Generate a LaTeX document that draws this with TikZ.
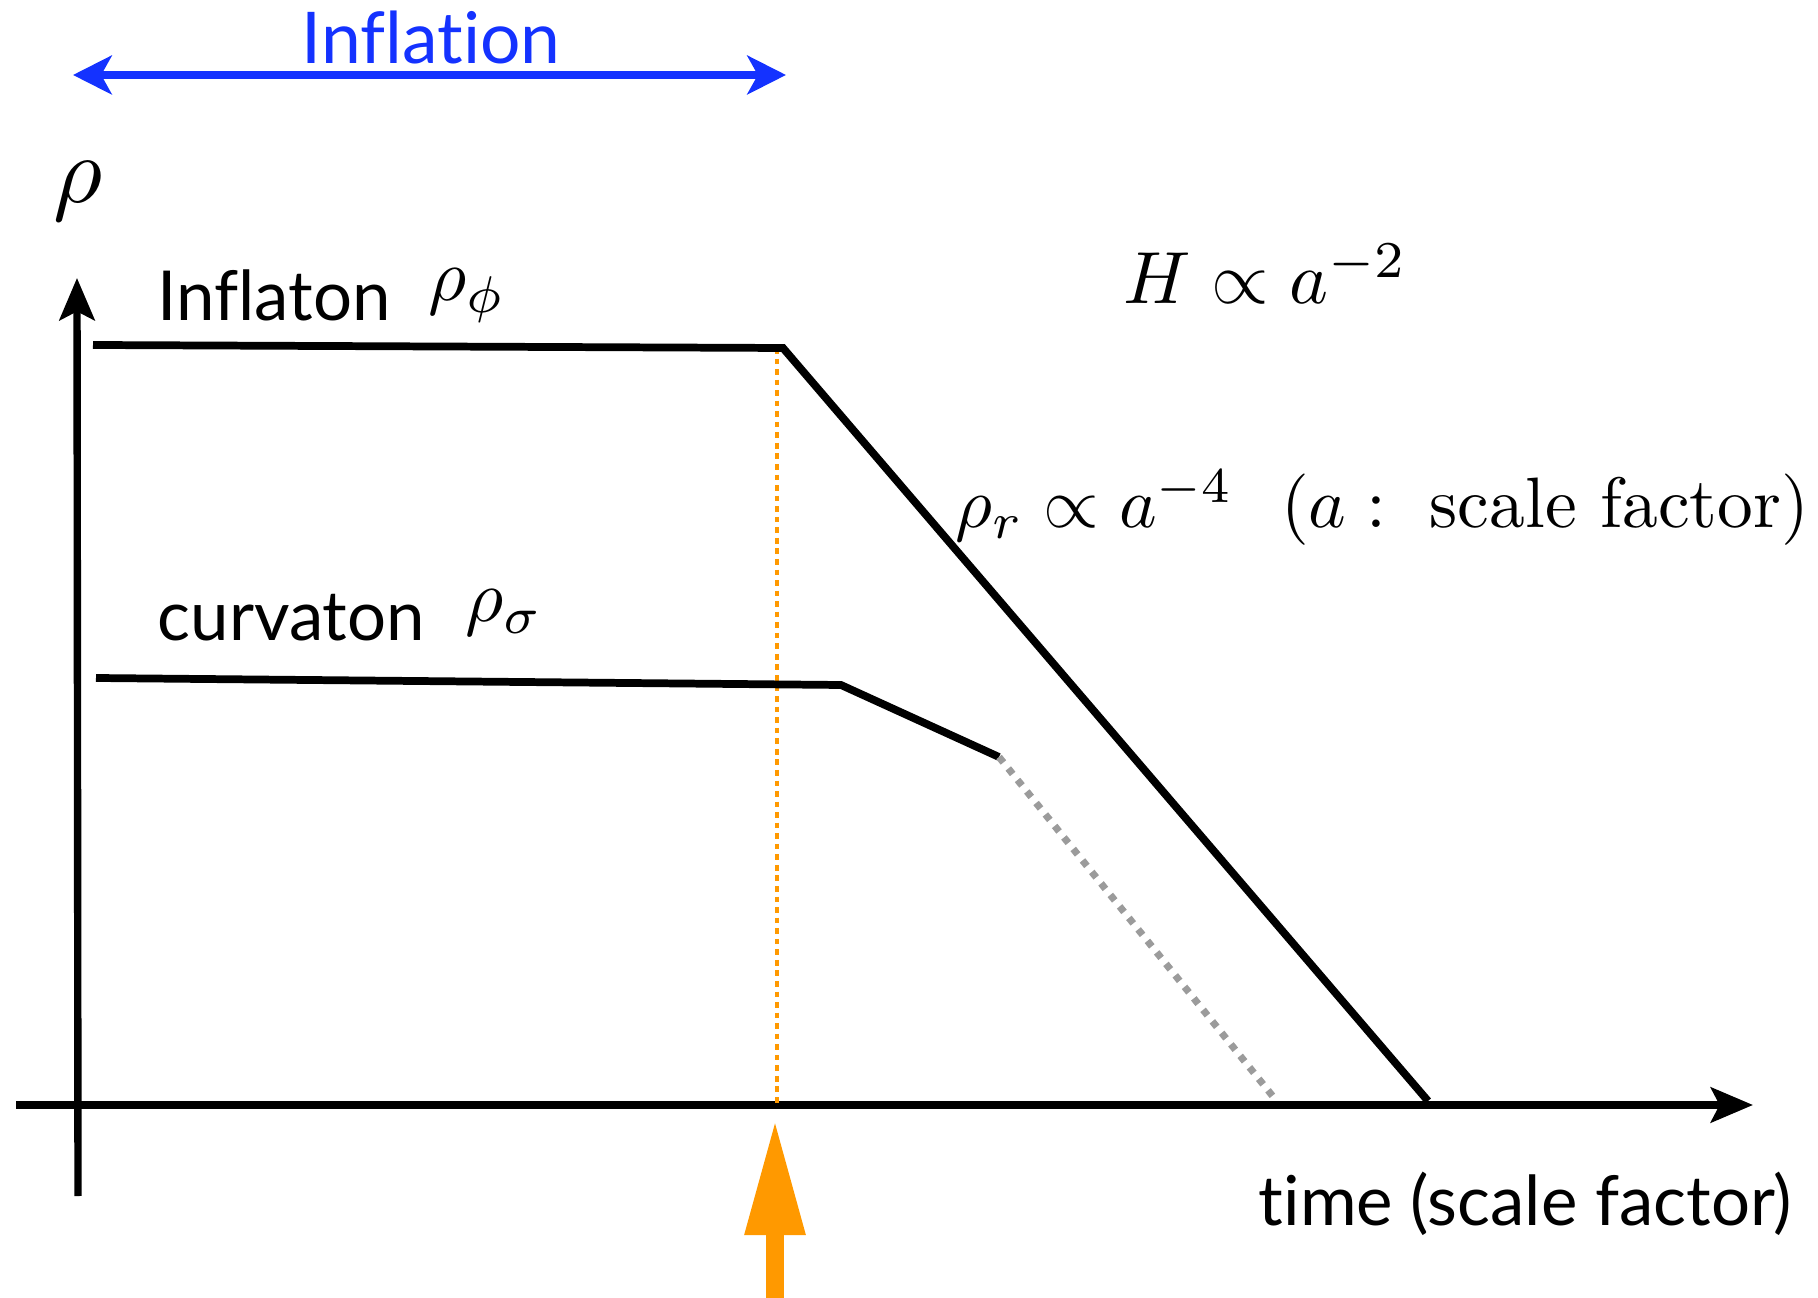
\documentclass[tikz,border=0pt]{standalone}
\usepackage{fontspec}
\newfontfamily\gillfont[Ligatures=NoCommon]{Lato}
\usetikzlibrary{arrows.meta}
\definecolor{infblue}{RGB}{20,50,255}
\definecolor{orng}{RGB}{255,153,0}
\definecolor{dgray}{RGB}{155,155,155}
\newcommand\sanslbl{\gillfont\fontsize{19.6}{24}\selectfont}
\begin{document}
\begin{tikzpicture}[x=0.01cm,y=-0.01cm,
  curve/.style={line width=2.2pt,black},
  axis/.style={line width=2.1pt,black,-{Stealth[length=12pt,width=10pt,inset=2.5pt]}},
  lbl/.style={inner sep=0pt,anchor=base west},
  mlbl/.style={lbl,scale=2.1},
]
\useasboundingbox (0,0) rectangle (1818,1298);
% coordinates
\coordinate (yb) at (78,1196);
\coordinate (yt) at (77,278);
\coordinate (xl) at (16,1105);
\coordinate (xr) at (1753,1105);
\coordinate (i0) at (93,345);
\coordinate (i1) at (783,348);
\coordinate (i2) at (1428,1101);
\coordinate (c0) at (96,678);
\coordinate (c1) at (841,685);
\coordinate (c2) at (999,757);
\coordinate (c3) at (1275,1099);
\coordinate (o0) at (777,348);
\coordinate (o1) at (777,1105);
\coordinate (a0) at (775,1298);
\coordinate (a1) at (775,1119);
\coordinate (b0) at (73,75);
\coordinate (b1) at (786,75);
% axes
\draw[axis] (yb) -- (yt);
\draw[axis] (xl) -- (xr);
% orange dotted line
\draw[orng,line width=1.3pt,dash pattern=on 1.6pt off 1.4pt] (o0) -- (o1);
% inflaton and radiation
\draw[curve] (i0) -- (i1) -- (i2);
% curvaton
\draw[curve] (c0) -- (c1) -- (c2);
\draw[dgray,line width=2pt,dash pattern=on 2pt off 2.2pt] (c2) -- (c3);
% orange arrow
\draw[orng,line width=5pt,-{Triangle[length=33pt,width=16pt]}] (a0) -- (a1);
% blue arrow
\draw[infblue,line width=2.2pt,{Stealth[length=11pt,width=11pt,inset=3pt]}-{Stealth[length=11pt,width=11pt,inset=3pt]}] (b0) -- (b1);
% labels
\node[lbl,text=infblue] (tinf) at (301,64) {\gillfont\fontsize{20.3}{25}\selectfont Inflation};
\node[lbl,scale=2.7] (trho) at (52,203) {$\rho$};
\node[lbl] (tinflaton) at (157,321) {\sanslbl Inflaton};
\node[mlbl] (trhophi) at (427,301) {$\rho_\phi$};
\node[lbl] (tcurv) at (157,641) {\sanslbl curvaton};
\node[mlbl] (trhosig) at (464,622) {$\rho_\sigma$};
\node[mlbl] (tH) at (1122,304) {$H\propto a^{-2}$};
\node[lbl,scale=2.03] (trr) at (954,528) {$\rho_r\propto a^{-4}\ \ (a:\ \mathrm{scale\ factor})$};
\node[lbl] (ttime) at (1258,1225) {\sanslbl time (scale factor)};
\end{tikzpicture}
\end{document}
